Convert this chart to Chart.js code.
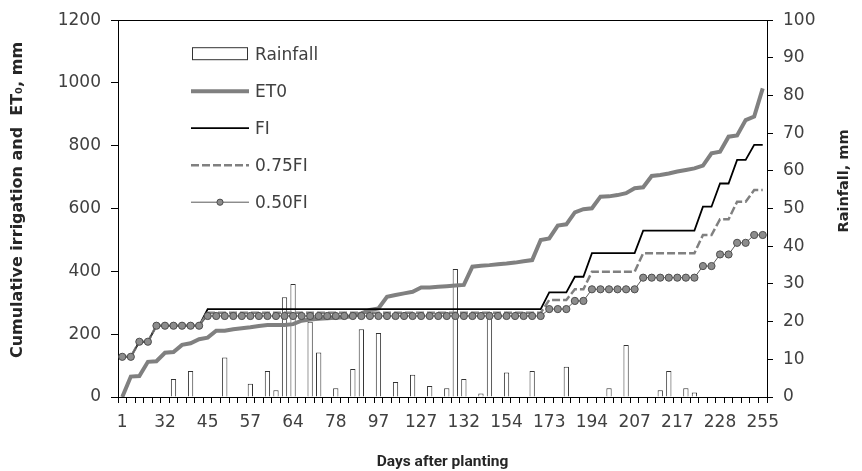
<!DOCTYPE html>
<html>
<head>
<meta charset="utf-8">
<title>Cumulative irrigation, ET0 and rainfall</title>
<script src="https://cdn.jsdelivr.net/npm/chart.js@4.4.0/dist/chart.umd.min.js"></script>
<style>
  html, body { margin: 0; padding: 0; background: #fff; }
  canvas { display: block; }
</style>
</head>
<body>
<canvas id="riego" width="862" height="471"></canvas>
<script>
// days after planting for each record (only every 5th one is labelled)
var days = [
  1, 7, 13, 19, 25, 32, 35, 38, 41, 43,
  45, 47, 50, 52, 55, 57, 58, 60, 61, 63,
  64, 67, 70, 72, 75, 78, 82, 86, 89, 93,
  97, 103, 109, 115, 121, 127, 128, 129, 130, 131,
  132, 136, 141, 145, 150, 154, 158, 162, 165, 169,
  173, 177, 181, 186, 190, 194, 197, 199, 202, 204,
  207, 209, 211, 213, 215, 217, 219, 222, 224, 226,
  228, 233, 239, 244, 250, 255
];

// cumulative reference evapotranspiration, mm
var et0 = [
  0, 65, 67, 112, 114, 141, 143, 166, 171, 184,
  189, 211, 211, 216, 219, 222, 226, 229, 229, 229,
  232, 243, 247, 249, 251, 252, 254, 258, 266, 277,
  282, 319, 325, 330, 335, 349, 349, 351, 353, 355,
  357, 415, 418, 420, 423, 425, 428, 432, 436, 500,
  505, 546, 550, 588, 598, 601, 638, 639, 643, 649,
  665, 668, 704, 707, 712, 718, 723, 728, 737, 776,
  781, 829, 833, 882, 893, 983
];

// cumulative irrigation, full irrigation
var fi = [
  128, 128, 176, 176, 227, 227, 227, 227, 227, 227,
  280, 280, 280, 280, 280, 280, 280, 280, 280, 280,
  280, 280, 280, 280, 280, 280, 280, 280, 280, 280,
  280, 280, 280, 280, 280, 280, 280, 280, 280, 280,
  280, 280, 280, 280, 280, 280, 280, 280, 280, 280,
  333, 333, 333, 383, 383, 458, 458, 458, 458, 458,
  458, 530, 530, 530, 530, 530, 530, 530, 606, 606,
  680, 680, 755, 755, 803, 803
];

// cumulative irrigation, 75% of FI
var fi75 = [
  128, 128, 176, 176, 227, 227, 227, 227, 227, 227,
  268, 268, 268, 268, 268, 268, 268, 268, 268, 268,
  268, 268, 268, 268, 268, 268, 268, 268, 268, 268,
  268, 268, 268, 268, 268, 268, 268, 268, 268, 268,
  268, 268, 268, 268, 268, 268, 268, 268, 268, 268,
  309, 309, 309, 343, 343, 399, 399, 399, 399, 399,
  399, 458, 458, 458, 458, 458, 458, 458, 516, 516,
  566, 566, 622, 622, 659, 659
];

// cumulative irrigation, 50% of FI
var fi50 = [
  128, 128, 176, 176, 227, 227, 227, 227, 227, 227,
  258, 258, 258, 258, 258, 258, 258, 258, 258, 258,
  258, 258, 258, 258, 258, 258, 258, 258, 258, 258,
  258, 258, 258, 258, 258, 258, 258, 258, 258, 258,
  258, 258, 258, 258, 258, 258, 258, 258, 258, 258,
  280, 280, 280, 306, 306, 343, 343, 343, 343, 343,
  343, 380, 380, 380, 380, 380, 380, 380, 417, 417,
  454, 454, 491, 491, 516, 516
];

// rainfall per record, mm
var rainfall = [
  0, 0, 0, 0, 0, 0, 4.8, 0, 6.9, 0,
  0, 0, 10.5, 0, 0, 3.5, 0, 6.9, 1.8, 26.5,
  30.0, 0, 20.0, 11.8, 0, 2.3, 0, 7.4, 18.0, 0,
  17.0, 0, 4.0, 0, 5.9, 0, 2.9, 0, 2.3, 34.0,
  4.8, 0, 0.9, 22.5, 0, 6.5, 0, 0, 6.9, 0,
  0, 0, 8.0, 0, 0, 0, 0, 2.3, 0, 13.8,
  0, 0, 0, 1.8, 6.9, 0, 2.3, 1.2, 0, 0,
  0, 0, 0, 0, 0, 0
];

var leftTicks = { min: 0, max: 1200, step: 200 };
var rightTicks = { min: 0, max: 100, step: 10 };

var fuente = 'DejaVu Sans';
var grisTexto = '#404040';
var colorTitulo = '#262626';

// legend drawn inside the plot, top left
var leyendaInterna = {
  id: 'leyendaInterna',
  afterDraw: function(chart) {
    var ctx = chart.ctx;
    var area = chart.chartArea;
    var x0 = area.left + 73;
    var largo = 58;
    var xt = area.left + 137;
    var y0 = area.top + 34;
    var paso = 37;
    var orden = ['Rainfall', 'ET0', 'FI', '0.75FI', '0.50FI'];

    ctx.save();
    ctx.font = '17px "' + fuente + '"';
    ctx.textBaseline = 'middle';
    ctx.textAlign = 'left';

    orden.forEach(function(nombre, k) {
      var ds = chart.data.datasets.find(function(d) { return d.label === nombre; });
      var y = y0 + k * paso;
      if (ds.type === 'bar') {
        ctx.fillStyle = ds.backgroundColor;
        ctx.strokeStyle = ds.borderColor;
        ctx.lineWidth = 1;
        ctx.fillRect(x0 + 1, y - 6, largo - 3, 12);
        ctx.strokeRect(x0 + 1.5, y - 6.5, largo - 3, 12);
      } else {
        ctx.beginPath();
        ctx.setLineDash(ds.borderDash || []);
        ctx.strokeStyle = ds.borderColor;
        ctx.lineWidth = ds.borderWidth;
        ctx.moveTo(x0, y);
        ctx.lineTo(x0 + largo, y);
        ctx.stroke();
        ctx.setLineDash([]);
        if (ds.pointRadius) {
          ctx.beginPath();
          ctx.arc(x0 + largo / 2, y, ds.pointRadius - 0.5, 0, Math.PI * 2);
          ctx.fillStyle = ds.pointBackgroundColor;
          ctx.fill();
          ctx.lineWidth = ds.pointBorderWidth;
          ctx.strokeStyle = ds.pointBorderColor;
          ctx.stroke();
        }
      }
      ctx.fillStyle = grisTexto;
      ctx.fillText(nombre, xt, y + 1);
    });
    ctx.restore();
  }
};

// vertical axis titles, both read bottom-to-top
var titulosEjes = {
  id: 'titulosEjes',
  afterDraw: function(chart) {
    var ctx = chart.ctx;
    function vertical(texto, x, y, size) {
      ctx.save();
      ctx.translate(x, y);
      ctx.rotate(-Math.PI / 2);
      ctx.font = 'bold ' + size + 'px "' + fuente + '"';
      ctx.fillStyle = colorTitulo;
      ctx.textAlign = 'center';
      ctx.textBaseline = 'middle';
      ctx.fillText(texto, 0, 0);
      ctx.restore();
    }
    vertical('Cumulative irrigation and  ET\u2080, mm', 18, 200, 16);
    vertical('Rainfall, mm', chart.width - 18, 181, 14.5);
  }
};

var ctx = document.getElementById('riego').getContext('2d');

new Chart(ctx, {
  type: 'bar',
  data: {
    labels: days,
    datasets: [
      {
        type: 'line',
        label: '0.50FI',
        data: fi50,
        yAxisID: 'y',
        order: 1,
        borderColor: '#595959',
        borderWidth: 1,
        tension: 0,
        pointRadius: 3.6,
        pointBackgroundColor: '#8c8c8c',
        pointBorderColor: '#4d4d4d',
        pointBorderWidth: 1
      },
      {
        type: 'line',
        label: '0.75FI',
        data: fi75,
        yAxisID: 'y',
        order: 2,
        borderColor: '#808080',
        borderWidth: 2.5,
        borderDash: [8, 3],
        tension: 0,
        pointRadius: 0
      },
      {
        type: 'line',
        label: 'FI',
        data: fi,
        yAxisID: 'y',
        order: 3,
        borderColor: '#000000',
        borderWidth: 1.8,
        tension: 0,
        pointRadius: 0
      },
      {
        type: 'line',
        label: 'ET0',
        data: et0,
        yAxisID: 'y',
        order: 4,
        borderColor: '#808080',
        borderWidth: 4,
        tension: 0,
        pointRadius: 0
      },
      {
        type: 'bar',
        label: 'Rainfall',
        data: rainfall,
        yAxisID: 'y1',
        order: 5,
        backgroundColor: '#ffffff',
        borderColor: '#333333',
        borderWidth: 1,
        barPercentage: 0.62,
        categoryPercentage: 1
      }
    ]
  },
  options: {
    responsive: false,
    animation: false,
    layout: { padding: { top: 20 } },
    plugins: {
      legend: { display: false },
      tooltip: { enabled: false }
    },
    scales: {
      x: {
        offset: true,
        grid: {
          offset: true,
          drawOnChartArea: false,
          drawTicks: true,
          tickLength: 6,
          color: '#000',
          tickColor: '#000'
        },
        border: { color: '#000', width: 1 },
        ticks: {
          autoSkip: false,
          maxRotation: 0,
          minRotation: 0,
          padding: 9,
          color: grisTexto,
          font: { family: fuente, size: 17 },
          callback: function(v, i) {
            return i % 5 === 0 ? this.getLabelForValue(v) : '';
          }
        },
        title: {
          display: true,
          text: 'Days after planting',
          color: colorTitulo,
          font: { family: 'Roboto', size: 15.5, weight: 'bold' },
          padding: { top: 0, bottom: 0 }
        },
        afterFit: function(s) { s.height = 74; }
      },
      y: {
        position: 'left',
        min: leftTicks.min,
        max: leftTicks.max,
        ticks: {
          stepSize: leftTicks.step,
          padding: 10,
          color: grisTexto,
          font: { family: fuente, size: 17 },
          callback: function(v) { return String(v); }
        },
        grid: {
          drawOnChartArea: true,
          tickLength: 7,
          tickColor: '#000',
          color: function(c) {
            return c.tick && c.tick.value === leftTicks.max ? '#000' : 'rgba(0,0,0,0)';
          }
        },
        border: { color: '#000', width: 1 },
        afterFit: function(s) { s.width = 118; }
      },
      y1: {
        position: 'right',
        min: rightTicks.min,
        max: rightTicks.max,
        ticks: {
          stepSize: rightTicks.step,
          padding: 10,
          color: grisTexto,
          font: { family: fuente, size: 17 }
        },
        grid: {
          drawOnChartArea: false,
          tickLength: 6,
          tickColor: '#000',
          color: '#000'
        },
        border: { color: '#000', width: 1 },
        afterFit: function(s) { s.width = 95; }
      }
    }
  },
  plugins: [leyendaInterna, titulosEjes]
});
</script>
</body>
</html>
